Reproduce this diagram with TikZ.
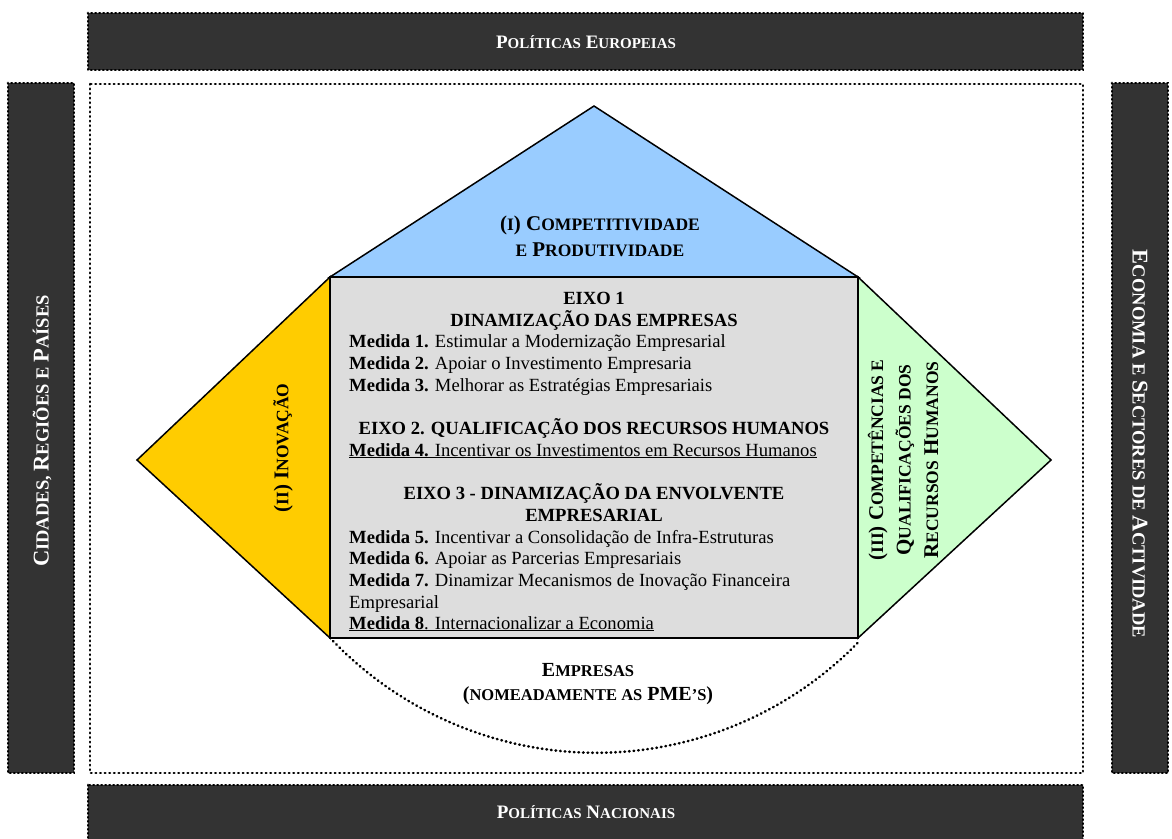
\documentclass[tikz,border=0pt]{standalone}
\usepackage{fontspec}
\setmainfont{Liberation Serif}
\newcommand\BC[1]{{\fontsize{19}{24}\selectfont #1}}
\newcommand\SC[1]{{\fontsize{15}{24}\selectfont #1}}
\newcommand\TB[1]{{\fontsize{21}{26}\selectfont #1}}
\newcommand\TS[1]{{\fontsize{17.5}{26}\selectfont #1}}
\newcommand\VB[1]{{\fontsize{22.5}{26}\selectfont #1}}
\newcommand\VS[1]{{\fontsize{18.5}{26}\selectfont #1}}
\newcommand\EB[1]{{\fontsize{20}{24}\selectfont #1}}
\newcommand\ES[1]{{\fontsize{16.5}{24}\selectfont #1}}
\definecolor{barfill}{HTML}{333333}
\definecolor{bluefill}{HTML}{99CCFF}
\definecolor{yellowfill}{HTML}{FFCC00}
\definecolor{greenfill}{HTML}{CCFFCC}
\definecolor{greyfill}{HTML}{DDDDDD}
\tikzset{
  bar/.style={fill=barfill, draw=black, line width=2.8pt, dash pattern=on 0.6pt off 3.4pt, line cap=round},
  dotframe/.style={draw=black, line width=2.6pt, dash pattern=on 0.6pt off 4pt, line cap=round},
  face/.style={draw=black, line width=1.5pt, line join=miter},
  bartext/.style={text=white, font=\bfseries\fontsize{19}{24}\selectfont, inner sep=0pt, align=center},
  captext/.style={text=black, font=\bfseries\fontsize{20}{26}\selectfont, inner sep=0pt, align=center},
  head/.style={font=\bfseries\fontsize{18.6}{21.7}\selectfont, inner sep=0pt, anchor=base},
  item/.style={font=\fontsize{18.6}{21.7}\selectfont, inner sep=0pt, anchor=base west},
}
\begin{document}
\begin{tikzpicture}[x=1pt, y=-1pt]
\useasboundingbox (0,0) rectangle (1172,838);
% outer bars
\path[bar] (88,13) rectangle (1083,70);
\path[bar] (88,785) rectangle (1083,845);
\path[bar] (8,83) rectangle (74,773);
\path[bar] (1112,83) rectangle (1168,773);
\node[bartext] (eu) at (586,42) {\BC{P}\SC{OLÍTICAS} \BC{E}\SC{UROPEIAS}};
\node[bartext] (nac) at (586,812) {\BC{P}\SC{OLÍTICAS} \BC{N}\SC{ACIONAIS}};
\node[bartext, rotate=90] (cid) at (42,431) {\VB{C}\VS{IDADES,} \VB{R}\VS{EGIÕES E} \VB{P}\VS{AÍSES}};
\node[bartext, rotate=-90] (eco) at (1140,444) {\VB{E}\VS{CONOMIA E} \VB{S}\VS{ECTORES DE} \VB{A}\VS{CTIVIDADE}};
% dotted frame
\path[dotframe] (90,84) rectangle (1083,773);
% faces
\path[face, fill=bluefill] (330,277) -- (594,106) -- (858,277) -- cycle;
\path[face, fill=yellowfill] (330,277) -- (137,460) -- (330,638) -- cycle;
\path[face, fill=greenfill] (858,277) -- (1051,460) -- (858,638) -- cycle;
\path[face, fill=greyfill] (330,277) rectangle (858,638);
% dotted arc
\draw[dotframe] (333,641) arc[start angle=224, end angle=316, radius=366pt];
% triangle labels
\node[captext] (comp) at (600,236) {\TB{(}\TS{I}\TB{) C}\TS{OMPETITIVIDADE}\\\TS{E} \TB{P}\TS{RODUTIVIDADE}};
\node[captext, rotate=90] (inov) at (283,448) {\TB{(}\TS{II}\TB{) I}\TS{NOVAÇÃO}};
\node[captext, rotate=90, font=\bfseries\fontsize{20}{27.5}\selectfont] (rh) at (903,460) {\TB{(}\TS{III}\TB{) C}\TS{OMPETÊNCIAS E}\\\TB{Q}\TS{UALIFICAÇÕES DOS}\\\TB{R}\TS{ECURSOS} \TB{H}\TS{UMANOS}};
% box contents
\node[head] (e1a) at (594,304) {EIXO 1};
\node[head] (e1b) at (594,326) {DINAMIZAÇÃO DAS EMPRESAS};
\node[item] (m1) at (349,347) {\textbf{Medida 1.} Estimular a Modernização Empresarial};
\node[item] (m2) at (349,369) {\textbf{Medida 2.} Apoiar o Investimento Empresaria};
\node[item] (m3) at (349,391) {\textbf{Medida 3.} Melhorar as Estratégias Empresariais};
\node[head] (e2) at (594,434) {EIXO 2. QUALIFICAÇÃO DOS RECURSOS HUMANOS};
\node[item] (m4) at (349,456) {\underline{\textbf{Medida 4.} Incentivar os Investimentos em Recursos Humanos}};
\node[head] (e3a) at (594,499) {EIXO 3 - DINAMIZAÇÃO DA ENVOLVENTE};
\node[head] (e3b) at (594,521) {EMPRESARIAL};
\node[item] (m5) at (349,543) {\textbf{Medida 5.} Incentivar a Consolidação de Infra-Estruturas};
\node[item] (m6) at (349,564) {\textbf{Medida 6.} Apoiar as Parcerias Empresariais};
\node[item] (m7) at (349,586) {\textbf{Medida 7.} Dinamizar Mecanismos de Inovação Financeira};
\node[item] (m7b) at (349,608) {Empresarial};
\node[item] (m8) at (349,629) {\underline{\textbf{Medida 8}. Internacionalizar a Economia}};
% empresas
\node[captext, font=\bfseries\fontsize{20}{24}\selectfont] (emp) at (588,684) {\EB{E}\ES{MPRESAS}\\\EB{(}\ES{NOMEADAMENTE AS} \EB{PME}\ES{’S}\EB{)}};
\end{tikzpicture}
\end{document}
